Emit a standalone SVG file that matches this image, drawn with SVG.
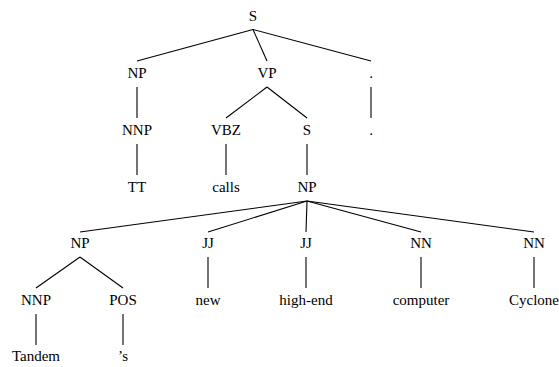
<svg xmlns="http://www.w3.org/2000/svg" width="559" height="367" viewBox="0 0 559 367">
<style>
.t text{font-family:'Liberation Serif','Times New Roman',Times,serif;font-size:15px;text-anchor:middle;fill:#000}
line{stroke:#000;stroke-width:1.1}
</style>
<rect width="559" height="367" fill="#fff"/>
<g id="connectors">
<line x1="253" y1="29.5" x2="137" y2="61"/>
<line x1="253" y1="29.5" x2="267" y2="61"/>
<line x1="253" y1="29.5" x2="371" y2="61"/>
<line x1="137" y1="87" x2="137" y2="118"/>
<line x1="267" y1="87" x2="226" y2="118"/>
<line x1="267" y1="87" x2="307" y2="118"/>
<line x1="371" y1="87" x2="371" y2="118"/>
<line x1="137" y1="144" x2="137" y2="175"/>
<line x1="226" y1="144" x2="226" y2="175"/>
<line x1="307" y1="144" x2="307" y2="175"/>
<line x1="307" y1="201" x2="80" y2="232"/>
<line x1="307" y1="201" x2="208" y2="232"/>
<line x1="307" y1="201" x2="306" y2="232"/>
<line x1="307" y1="201" x2="421" y2="232"/>
<line x1="307" y1="201" x2="534" y2="232"/>
<line x1="80" y1="257" x2="36" y2="288"/>
<line x1="80" y1="257" x2="123" y2="288"/>
<line x1="208" y1="257" x2="208" y2="288"/>
<line x1="306" y1="257" x2="306" y2="288"/>
<line x1="421" y1="257" x2="421" y2="288"/>
<line x1="534" y1="257" x2="534" y2="288"/>
<line x1="36" y1="314" x2="36" y2="345"/>
<line x1="123" y1="314" x2="123" y2="345"/>
</g>
<g class="t" font-family="Liberation Serif, serif" font-size="15" text-anchor="middle">
<g id="n_S"><text x="253" y="21">S</text></g>
<g id="n_NP1"><text x="137" y="78">NP</text></g>
<g id="n_VP"><text x="267" y="78">VP</text></g>
<g id="n_punct"><text x="371" y="78">.</text></g>
<g id="n_NNP1"><text x="137" y="134.5">NNP</text></g>
<g id="n_VBZ"><text x="226" y="134.5">VBZ</text></g>
<g id="n_S2"><text x="307" y="134.5">S</text></g>
<g id="n_dot"><text x="371" y="134.5">.</text></g>
<g id="n_TT"><text x="137" y="191.5">TT</text></g>
<g id="n_calls"><text x="226" y="191.5">calls</text></g>
<g id="n_NP2"><text x="307" y="191.5">NP</text></g>
<g id="n_NP3"><text x="80" y="248">NP</text></g>
<g id="n_JJ1"><text x="208" y="248">JJ</text></g>
<g id="n_JJ2"><text x="306" y="248">JJ</text></g>
<g id="n_NN1"><text x="421" y="248">NN</text></g>
<g id="n_NN2"><text x="534" y="248">NN</text></g>
<g id="n_NNP2"><text x="36" y="304.5">NNP</text></g>
<g id="n_POS"><text x="123" y="304.5">POS</text></g>
<g id="n_new"><text x="208" y="304.5">new</text></g>
<g id="n_highend"><text x="306" y="304.5">high-end</text></g>
<g id="n_computer"><text x="421" y="304.5">computer</text></g>
<g id="n_Cyclone"><text x="534" y="304.5">Cyclone</text></g>
<g id="n_Tandem"><text x="36" y="361">Tandem</text></g>
<g id="n_s"><text x="123" y="361">’s</text></g>
</g>
</svg>
